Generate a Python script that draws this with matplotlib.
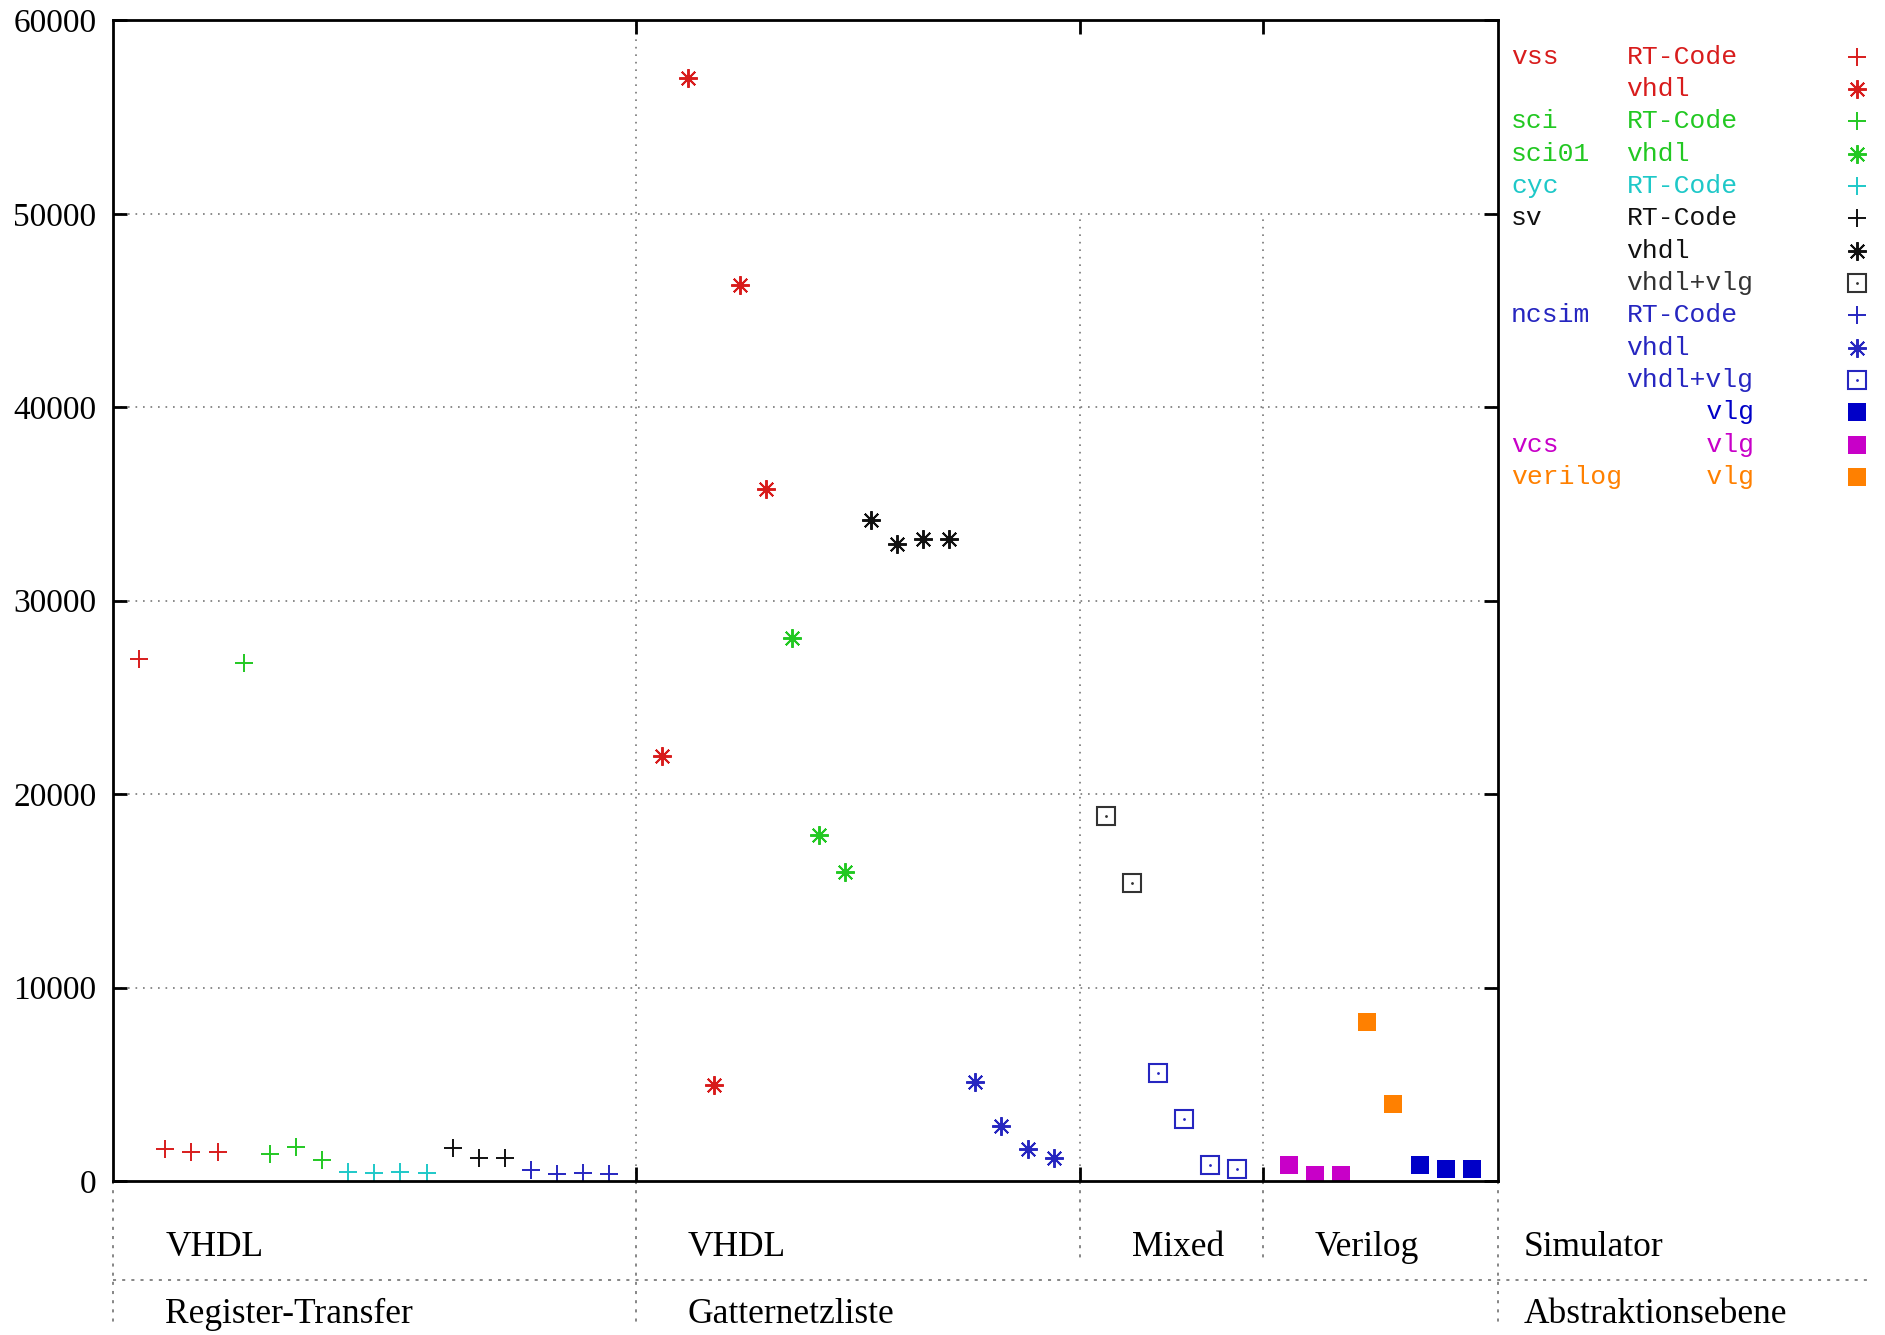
import matplotlib.pyplot as plt
from matplotlib.transforms import blended_transform_factory

plt.rcParams['font.family'] = ['Liberation Serif', 'DejaVu Serif']

# values (Register-Transfer, VHDL)
vss_rt = [27000, 1650, 1480, 1480]
sci_rt = [26800, 1420, 1750, 1070]
cyc_rt = [460, 410, 460, 410]
sv_rt = [1700, 1200, 1200]
ncsim_rt = [590, 370, 400, 370]

# Gatternetzliste, VHDL
vss_vhdl = [22000, 57000, 4970, 46300, 35800]
sci01_vhdl = [28100, 17900, 16000]
sv_vhdl = [34200, 32950, 33200, 33200]
ncsim_vhdl = [5100, 2860, 1680, 1180]

# Gatternetzliste, Mixed
sv_mixed = [18870, 15400]
ncsim_mixed = [5580, 3220, 810, 600]

# Gatternetzliste, Verilog
vcs_vlg = [810, 290, 290]
verilog_vlg = [8240, 3960]
ncsim_vlg = [810, 640, 640]

lang_labels = ["VHDL", "VHDL", "Mixed", "Verilog", "Simulator"]
level_labels = ["Register-Transfer", "Gatternetzliste", "Abstraktionsebene"]

RED = '#d81c1c'
GREEN = '#22c822'
CYAN = '#1ec8c8'
BLACK = '#111111'
BLUE = '#2626c0'
DBLUE = '#0000c8'
MAGENTA = '#c800c8'
ORANGE = '#ff8000'
ASTER = (8, 2, 0)

groups = [
    [(vss_rt, RED, '+'), (sci_rt, GREEN, '+'), (cyc_rt, CYAN, '+'),
     (sv_rt, BLACK, '+'), (ncsim_rt, BLUE, '+')],
    [(vss_vhdl, RED, ASTER), (sci01_vhdl, GREEN, ASTER),
     (sv_vhdl, BLACK, ASTER), (ncsim_vhdl, BLUE, ASTER)],
    [(sv_mixed, '#333333', 'open'), (ncsim_mixed, BLUE, 'open')],
    [(vcs_vlg, MAGENTA, 'fill'), (verilog_vlg, ORANGE, 'fill'),
     (ncsim_vlg, DBLUE, 'fill')],
]


def draw(ax, x, y, color, m, **kw):
    if m == '+':
        ax.plot(x, y, ls='none', marker='+', ms=13, mew=1.4, color=color, **kw)
    elif m == 'open':
        ax.plot(x, y, ls='none', marker='s', ms=12.5, mew=1.5, mfc='none', mec=color, **kw)
        ax.plot(x, y, ls='none', marker='.', ms=2, color=color, **kw)
    elif m == 'fill':
        ax.plot(x, y, ls='none', marker='s', ms=12.5, mew=0, color=color, **kw)
    else:
        ax.plot(x, y, ls='none', marker=m, ms=13.5, mew=1.4, color=color, **kw)


fig = plt.figure(figsize=(18.85, 13.35), dpi=100)
ax = fig.add_axes([0.05995, 0.1153, 0.7347, 0.8694])

pos = 1
dividers = []
for grp in groups:
    for vals, color, m in grp:
        xs = list(range(pos, pos + len(vals)))
        draw(ax, xs, vals, color, m)
        pos += len(vals)
    dividers.append(pos)
    pos += 1

ax.set_xlim(0, dividers[-1])
ax.set_ylim(0, 60000)
ax.set_yticks(range(0, 60001, 10000))
ax.set_xticks(dividers[:-1])
ax.set_xticklabels([])

grid_kw = dict(color='#777777', lw=1.2, ls=(0, (1, 3.5)))
for v in range(10000, 60000, 10000):
    ax.axhline(v, **grid_kw, zorder=0)
ax.axvline(dividers[0], **grid_kw, zorder=0)
ax.vlines(dividers[1:3], 0, 50000, **grid_kw, zorder=0)

for s in ax.spines.values():
    s.set_linewidth(2)
ax.tick_params(axis='both', direction='in', length=10, width=2,
               top=True, right=True, labelsize=24, pad=12)
ax.tick_params(axis='x', labelbottom=False)

# category rows below the plot
trans = blended_transform_factory(ax.transData, ax.transAxes)
line_kw = dict(color='#666666', lw=1.1, ls=(0, (2, 4)), transform=trans, clip_on=False)
for xv in [0, dividers[0], dividers[-1]]:
    ax.plot([xv, xv], [0, -0.123], **line_kw)
for xv in dividers[1:3]:
    ax.plot([xv, xv], [0, -0.071], **line_kw)
ax.plot([0, 67.2], [-0.085, -0.085], **line_kw)

starts = [2, dividers[0] + 2, dividers[1] + 2, dividers[2] + 2, dividers[3] + 1]
for xv, lab in zip(starts, lang_labels):
    ax.text(xv, -0.057, lab, transform=trans, fontsize=25.5, va='center', ha='left')
for xv, lab in zip([starts[0], starts[1], starts[4]], level_labels):
    ax.text(xv, -0.115, lab, transform=trans, fontsize=25.5, va='center', ha='left')

# key
key = [
    ("vss", "RT-Code", RED, '+'),
    ("", "vhdl", RED, ASTER),
    ("sci", "RT-Code", GREEN, '+'),
    ("sci01", "vhdl", GREEN, ASTER),
    ("cyc", "RT-Code", CYAN, '+'),
    ("sv", "RT-Code", BLACK, '+'),
    ("", "vhdl", BLACK, ASTER),
    ("", "vhdl+vlg", '#333333', 'open'),
    ("ncsim", "RT-Code", BLUE, '+'),
    ("", "vhdl", BLUE, ASTER),
    ("", "vhdl+vlg", BLUE, 'open'),
    ("", "     vlg", DBLUE, 'fill'),
    ("vcs", "     vlg", MAGENTA, 'fill'),
    ("verilog", "     vlg", ORANGE, 'fill'),
]
mono = dict(family=['Liberation Mono', 'DejaVu Sans Mono'], fontsize=19)
for i, (name, kind, color, m) in enumerate(key):
    yk = 0.9689 - i * 0.02788
    ax.text(1.0095, yk, name, transform=ax.transAxes, va='center', color=color, **mono)
    ax.text(1.0929, yk, kind, transform=ax.transAxes, va='center', color=color, **mono)
    draw(ax, [1.2595], [yk], color, m, transform=ax.transAxes, clip_on=False)

fig.savefig('out.png', dpi=100)
